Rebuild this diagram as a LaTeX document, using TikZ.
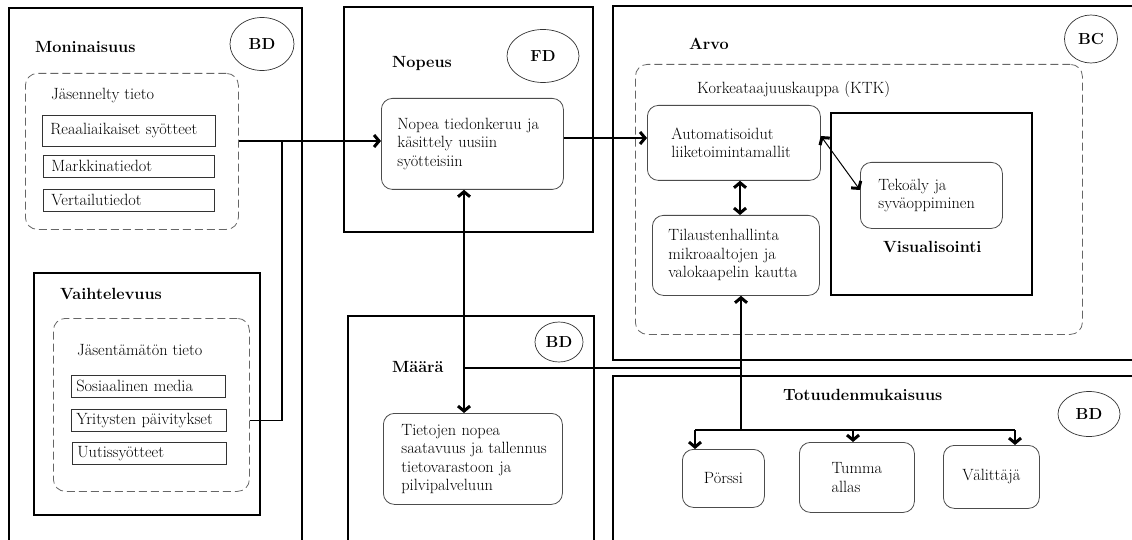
\documentclass[tikz,border=0pt]{standalone}
\usepackage{fontspec}
\usetikzlibrary{arrows.meta,shapes.geometric,calc}
\begin{document}
\begin{tikzpicture}[x=1pt,y=-1pt,
 >={Straight Barb[length=5pt,width=12pt,line width=3pt]},
 every node/.style={font=\fontsize{16.3}{18.5}\selectfont},
 big/.style={draw, line width=1.7pt, inner sep=0pt, anchor=north west},
 dbox/.style={draw=black!60, dash pattern=on 8pt off 4pt, line width=0.8pt, rounded corners=12pt, inner sep=0pt, anchor=north west},
 leaf/.style={draw=black!80, line width=0.8pt, anchor=north west, align=left, inner xsep=8pt, inner ysep=0pt},
 rnode/.style={draw=black!70, line width=0.8pt, rounded corners=11pt, anchor=north west, align=left},
 ttl/.style={font=\fontsize{16.2}{18}\selectfont\bfseries, anchor=west, inner sep=0pt},
 lbl/.style={anchor=west, inner sep=0pt},
 oval/.style={ellipse, draw=black!80, line width=0.7pt, inner sep=0pt, font=\fontsize{16}{18}\selectfont\bfseries},
 conn/.style={line width=1.8pt}]
\path[use as bounding box] (0,0) rectangle (1132,540);
\clip (0,0) rectangle (1132,540);
\fill[white] (0,0) rectangle (1132,540);

% containers
\node[big, minimum width=293pt, minimum height=545pt] (b1) at (8,7) {};
\node[big, minimum width=226pt, minimum height=242pt] (b2) at (33,272) {};
\node[big, minimum width=249pt, minimum height=225pt] (b3) at (343,6) {};
\node[big, minimum width=246pt, minimum height=235pt] (b4) at (347,315) {};
\node[big, minimum width=535pt, minimum height=354pt] (b5) at (612,5) {};
\node[big, minimum width=535pt, minimum height=175pt] (b6) at (612,375) {};
\node[big, minimum width=201pt, minimum height=182pt] (vis) at (830,112) {};
\node[dbox, minimum width=213pt, minimum height=156pt] (d1) at (25,73) {};
\node[dbox, minimum width=196pt, minimum height=173pt] (d2) at (53,318) {};
\node[dbox, minimum width=447pt, minimum height=270pt] (d3) at (635,64) {};

% titles
\node[ttl] (t1) at (35,47) {Moninaisuus};
\node[ttl] (t2) at (60,294) {Vaihtelevuus};
\node[ttl] (t3) at (392,64) {Nopeus};
\node[ttl] (t4) at (392,367) {Määrä};
\node[ttl] (t5) at (689,44) {Arvo};
\node[ttl] (t6) at (783,395) {Totuudenmukaisuus};
\node[ttl] (t7) at (883,247) {Visualisointi};
\node[lbl] (l1) at (51,96) {Jäsennelty tieto};
\node[lbl] (l2) at (77,350) {Jäsentämätön tieto};
\node[lbl] (l3) at (697,89) {Korkeataajuuskauppa (KTK)};

% ovals
\node[oval, minimum width=64pt, minimum height=53pt] (o1) at (262,44) {BD};
\node[oval, minimum width=72pt, minimum height=53pt] (o2) at (543,56) {FD};
\node[oval, minimum width=48pt, minimum height=40pt] (o3) at (559,342) {BD};
\node[oval, minimum width=53pt, minimum height=48pt] (o4) at (1091,39) {BC};
\node[oval, minimum width=62pt, minimum height=45pt] (o5) at (1089,414) {BD};

% leaf boxes
\node[leaf, text width=157pt, minimum height=31pt] (rea) at (42,115) {Reaaliaikaiset syötteet};
\node[leaf, text width=155pt, minimum height=22pt] (mar) at (43,155) {Markkinatiedot};
\node[leaf, text width=155pt, minimum height=22pt] (ver) at (43,189) {Vertailutiedot};
\node[leaf, text width=144pt, minimum height=22pt, inner xsep=5pt] (sos) at (71,375) {Sosiaalinen media};
\node[leaf, text width=145pt, minimum height=22pt, inner xsep=5pt] (yri) at (71,409) {Yritysten päivitykset};
\node[leaf, text width=144pt, minimum height=22pt, inner xsep=5pt] (uut) at (72,442) {Uutissyötteet};

% rounded nodes
\node[rnode, text width=150pt, inner xsep=16pt, minimum height=91pt] (nop) at (381,98) {Nopea tiedonkeruu ja\\käsittely uusiin\\syötteisiin};
\node[rnode, text width=143pt, inner xsep=18pt, minimum height=91pt] (tie) at (383,413) {Tietojen nopea\\\mbox{saatavuus ja tallennus}\\tietovarastoon ja\\pilvipalveluun};
\node[rnode, text width=125pt, inner xsep=24pt, minimum height=75pt] (aut) at (647,105) {Automatisoidut\\liiketoimintamallit};
\node[rnode, text width=135pt, inner xsep=16pt, minimum height=80pt] (til) at (652,215) {Tilaustenhallinta\\mikroaaltojen ja\\valokaapelin kautta};
\node[rnode, text width=106pt, inner xsep=18pt, minimum height=66pt] (tek) at (860,162) {Tekoäly ja\\syväoppiminen};
\node[rnode, align=center, minimum width=82pt, minimum height=58pt] (por) at (682,449) {Pörssi};
\node[rnode, minimum width=115pt, minimum height=70pt] (tum) at (799,442) {Tumma\\allas};
\node[rnode, align=center, minimum width=96pt, minimum height=63pt] (val) at (943,445) {Välittäjä};

% junction coordinates
\coordinate (j1) at (282,141);
\coordinate (v1) at (464,368);
\coordinate (v2) at (741,368);
\coordinate (h1) at (695,430);
\coordinate (h2) at (853,430);
\coordinate (h3) at (1015,430);

% connectors
\draw[conn] (d1.east |- j1) -- (j1);
\draw[conn,->] (j1) -- (j1 -| nop.west);
\draw[conn] (d2.east |- yri.east) -| (j1);
\draw[conn,->] (nop.east |- 0,138) -- (aut.west |- 0,138);
\draw[conn,<->] (v1 |- nop.south) -- (v1 |- tie.north);
\draw[conn] (v1) -- (v2);
\draw[conn,->] (v2) -- (v2 |- til.south);
\draw[conn] (v2) -- (v2 |- h1);
\draw[conn] (h1) -- (h3);
\draw[conn,->] (h1) -- (h1 |- por.north);
\draw[conn,->] (h2) -- (h2 |- tum.north);
\draw[conn,->] (h3) -- (h3 |- val.north);
\draw[conn,<->] (aut.south -| 740,0) -- (til.north -| 740,0);
\draw[line width=1pt,<->] (aut.east |- 0,136) -- (tek.west |- 0,190);
\end{tikzpicture}
\end{document}
